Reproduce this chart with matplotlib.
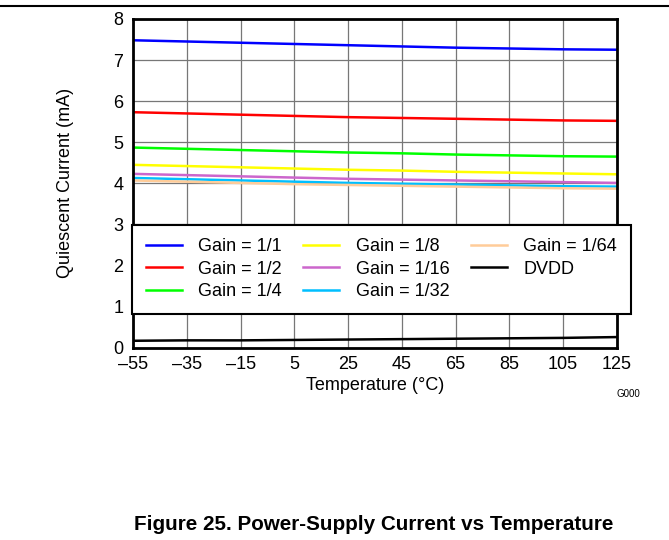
import matplotlib
matplotlib.use("Agg")
import matplotlib.pyplot as plt
from matplotlib.lines import Line2D

plt.rcParams['font.family'] = ['Liberation Sans', 'DejaVu Sans']

temp = [-55, -35, -15, 5, 25, 45, 65, 85, 105, 125]
gain_1 = [7.48, 7.45, 7.42, 7.39, 7.36, 7.33, 7.30, 7.28, 7.26, 7.25]
gain_2 = [5.73, 5.70, 5.67, 5.64, 5.61, 5.59, 5.57, 5.55, 5.53, 5.52]
gain_4 = [4.87, 4.84, 4.81, 4.78, 4.75, 4.73, 4.70, 4.68, 4.66, 4.65]
gain_8 = [4.45, 4.42, 4.39, 4.36, 4.33, 4.31, 4.28, 4.26, 4.24, 4.22]
gain_16 = [4.23, 4.20, 4.17, 4.14, 4.11, 4.09, 4.07, 4.05, 4.03, 4.01]
gain_32 = [4.13, 4.10, 4.07, 4.04, 4.01, 3.99, 3.97, 3.95, 3.93, 3.92]
gain_64 = [4.07, 4.04, 4.01, 3.98, 3.96, 3.94, 3.92, 3.90, 3.88, 3.87]
dvdd = [0.17, 0.18, 0.18, 0.19, 0.20, 0.21, 0.22, 0.23, 0.24, 0.26]

series = [
    ('Gain = 1/1', gain_1, '#0000FF'),
    ('Gain = 1/2', gain_2, '#FF0000'),
    ('Gain = 1/4', gain_4, '#00FF00'),
    ('Gain = 1/8', gain_8, '#FFFF00'),
    ('Gain = 1/16', gain_16, '#CC66CC'),
    ('Gain = 1/32', gain_32, '#00BFFF'),
    ('Gain = 1/64', gain_64, '#FFCC99'),
    ('DVDD', dvdd, '#000000'),
]

fig = plt.figure(figsize=(6.69, 5.40), dpi=100)
ax = fig.add_axes([0.199, 0.356, 0.723, 0.609])

for name, vals, col in series:
    ax.plot(temp, vals, color=col, lw=1.8, label=name)

ax.set_xlim(-55, 125)
ax.set_ylim(0, 8)
ax.set_xticks(range(-55, 126, 20))
ax.set_xticklabels([str(t).replace('-', '\u2013') for t in range(-55, 126, 20)])
ax.set_yticks(range(0, 9))
ax.grid(True, color='#777777', lw=0.9)
ax.set_axisbelow(True)
ax.tick_params(axis='y', length=0, labelsize=13, pad=7)
ax.tick_params(axis='x', length=0, labelsize=13, pad=6)
for s in ax.spines.values():
    s.set_linewidth(2)
ax.set_xlabel('Temperature (°C)', fontsize=13, labelpad=3)
ax.set_ylabel('Quiescent Current (mA)', fontsize=13, labelpad=28)

# legend box sits over the lower part of the plot
leg = ax.legend(ncol=3, loc='upper left', bbox_to_anchor=(-0.002, 0.374),
                fontsize=13, frameon=True, fancybox=False,
                edgecolor='black', framealpha=1, handlelength=2.0,
                handletextpad=0.9, columnspacing=1.2, borderpad=0.75,
                borderaxespad=0, labelspacing=0.3)
leg.get_frame().set_linewidth(1.5)

fig.add_artist(Line2D([0, 1], [0.989, 0.989], color='black', lw=1.5))
fig.text(0.94, 0.265, 'G000', fontsize=7, ha='center')
fig.text(0.558, 0.018, 'Figure 25. Power-Supply Current vs Temperature',
         fontsize=14.9, fontweight='bold', ha='center')

fig.savefig('out.png', dpi=100)
